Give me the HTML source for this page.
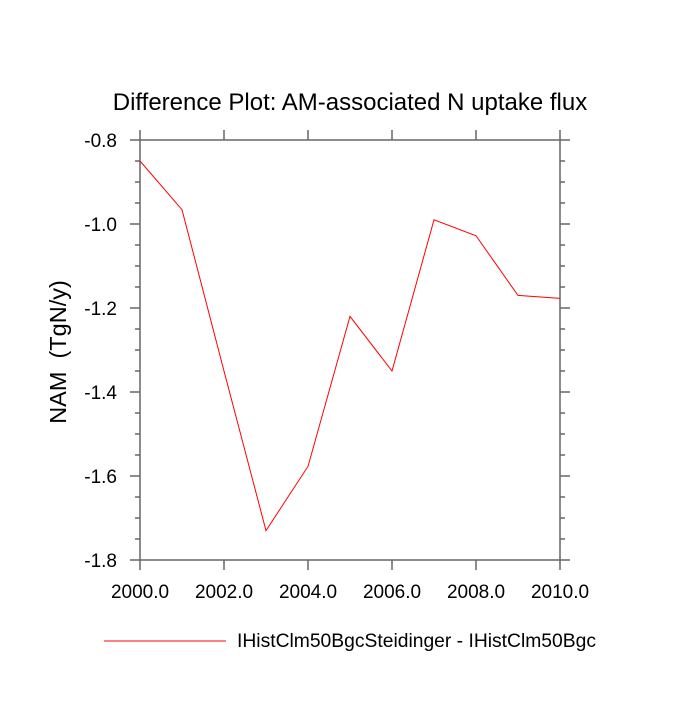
<!DOCTYPE html>
<html><head><meta charset="utf-8"><style>
body{margin:0;background:#fff}
svg text{font-family:"Liberation Sans",sans-serif;fill:#000}
</style></head><body>
<svg id="chart" width="700" height="700" xmlns="http://www.w3.org/2000/svg">
<rect width="700" height="700" fill="#fff"/>
<text x="350" y="110" font-size="24" text-anchor="middle">Difference Plot: AM-associated N uptake flux</text>
<text transform="translate(66,352) rotate(-90)" font-size="23.5" text-anchor="middle" xml:space="preserve">NAM  (TgN/y)</text>
<g id="axes"></g>
<g id="series"></g>
<line x1="104" y1="641" x2="226" y2="641" stroke="#ff0000" stroke-width="1"/>
<text x="237" y="647" font-size="19.3">IHistClm50BgcSteidinger - IHistClm50Bgc</text>
</svg>
<script>
const years=[2000,2001,2002,2003,2004,2005,2006,2007,2008,2009,2010];
const values=[-0.85,-0.966,-1.35,-1.73,-1.577,-1.22,-1.35,-0.99,-1.028,-1.17,-1.177];
const xTicks=[2000,2002,2004,2006,2008,2010];
const xTickLabels=["2000.0","2002.0","2004.0","2006.0","2008.0","2010.0"];
const yTicks=[-0.8,-1.0,-1.2,-1.4,-1.6,-1.8];
const yTickLabels=["-0.8","-1.0","-1.2","-1.4","-1.6","-1.8"];
const L=140,R=560,T=140,B=560;
const xs=v=>L+(v-2000)/10*(R-L);
const ys=v=>T+(-0.8-v)/1.0*(B-T);
const NS="http://www.w3.org/2000/svg";
const ax=document.getElementById('axes');
function ln(x1,y1,x2,y2,name){const l=document.createElementNS(NS,'line');
l.setAttribute('x1',x1);l.setAttribute('y1',y1);l.setAttribute('x2',x2);l.setAttribute('y2',y2);
l.setAttribute('stroke','#666');l.setAttribute('stroke-width','1.5');


ax.appendChild(l);}
function tx(x,y,s,anchor,name){const t=document.createElementNS(NS,'text');
t.setAttribute('x',x);t.setAttribute('y',y);t.setAttribute('font-size','19');t.setAttribute('text-anchor',anchor);t.textContent=s;


ax.appendChild(t);}
const f=document.createElementNS(NS,'rect');
f.setAttribute('x',L);f.setAttribute('y',T);f.setAttribute('width',R-L);f.setAttribute('height',B-T);
f.setAttribute('fill','none');f.setAttribute('stroke','#666');f.setAttribute('stroke-width','1.5');


ax.appendChild(f);
xTicks.forEach((v,i)=>{const x=xs(v);ln(x,B,x,B+10,'x-tick');ln(x,T,x,T-10,'x-tick-top');tx(x,B+38,xTickLabels[i],'middle','x-tick-label');});
yTicks.forEach((v,i)=>{const y=ys(v);ln(L-10,y,L,y,'y-tick');ln(R,y,R+10,y,'y-tick-right');tx(L-23,y+7,yTickLabels[i],'end','y-tick-label');});
for(let k=1;k<20;k++){if(k%4===0)continue;const y=ys(-0.8-k*0.05);ln(L-5,y,L,y,'y-minor-tick');ln(R,y,R+5,y,'y-minor-tick-right');}
const p=document.createElementNS(NS,'polyline');
p.setAttribute('points',years.map((y,i)=>xs(y)+','+ys(values[i])).join(' '));
p.setAttribute('fill','none');p.setAttribute('stroke','#ff0000');p.setAttribute('stroke-width','1');


document.getElementById('series').appendChild(p);
</script>
</body></html>
